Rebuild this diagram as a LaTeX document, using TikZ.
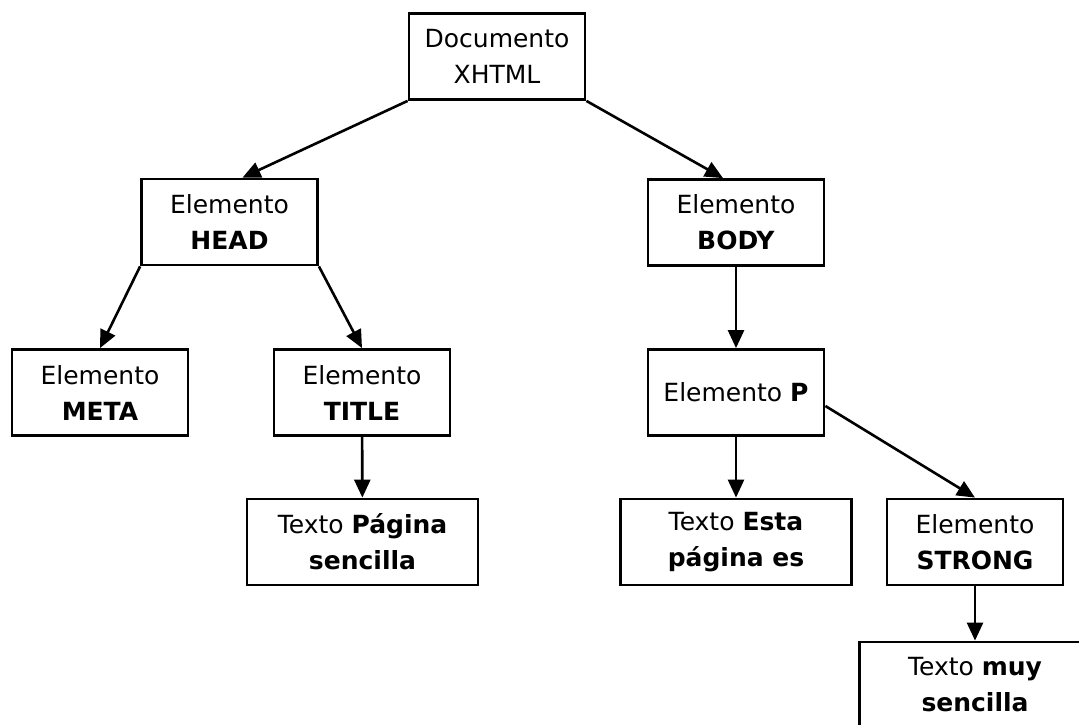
\documentclass[tikz,border=0pt]{standalone}
\usepackage{fontspec}
\setmainfont{DejaVu Sans}
\usepackage{tikz}
\usetikzlibrary{arrows.meta, positioning}

\begin{document}
\begin{tikzpicture}[x=0.5pt, y=-0.5pt,
        box/.style={rectangle, draw, line width=1.4pt, align=center,
            minimum width=88pt, minimum height=43pt, inner sep=2pt,
            font=\fontsize{12.5pt}{18pt}\selectfont},
        widebox/.style={box, minimum width=115.5pt},
        link/.style={line width=1.3pt, -{Triangle[length=9pt, width=8pt]}}]
        \clip (0, 0) rectangle (1079, 724);

        \node[box] at (497, 56.5) (doc) {Documento\\XHTML};
        \node[box] at (229.5, 222) (head) {Elemento\\\textbf{HEAD}};
        \node[box] at (736, 222.5) (body) {Elemento\\\textbf{BODY}};
        \node[box] at (100, 392.5) (meta) {Elemento\\\textbf{META}};
        \node[box] at (362, 392.5) (title) {Elemento\\\textbf{TITLE}};
        \node[box] at (736, 392.5) (p) {Elemento \textbf{P}};
        \node[widebox] at (362.5, 542) (pagina) {Texto \textbf{Página}\\\textbf{sencilla}};
        \node[widebox] at (736, 542) (esta) {Texto \textbf{Esta}\\\textbf{página es}};
        \node[box] at (975, 542) (strong) {Elemento\\\textbf{STRONG}};
        \node[widebox] at (975, 685) (muy) {Texto \textbf{muy}\\\textbf{sencilla}};

        \draw[link] (doc.south west) to ([xshift=6.5pt]head.north);
        \draw[link] (doc.south east) to ([xshift=-6.5pt]body.north);
        \draw[link] (head.south west) to (meta.north);
        \draw[link] (head.south east) to (title.north);
        \draw[link] (title) to (pagina);
        \draw[link] (body) to (p);
        \draw[link] (p) to (esta);
        \draw[link] ([yshift=-6.75pt]p.east) to (strong.north);
        \draw[link] (strong) to (muy);
    \end{tikzpicture}
\end{document}
